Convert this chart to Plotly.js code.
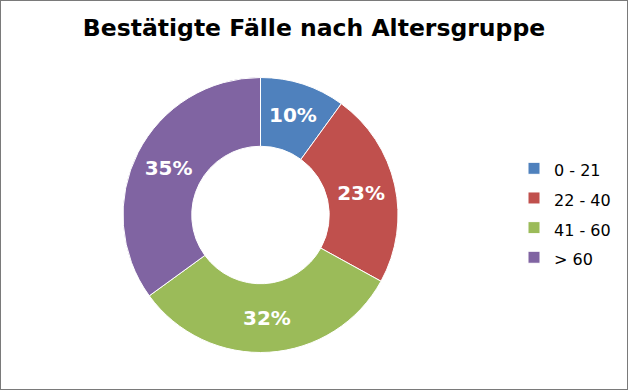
<!DOCTYPE html>
<html>
<head>
<meta charset="utf-8">
<script src="https://cdn.plot.ly/plotly-3.0.1.min.js"></script>
<style>
  html, body { margin: 0; padding: 0; background: #fff; }
  #chart { width: 626px; height: 388px; border: 1px solid #7a7a7a; }
</style>
</head>
<body>
<div id="chart"></div>
<script>
const chartTitle = "Bestätigte Fälle nach Altersgruppe";
const ageGroups = ["0 - 21", "22 - 40", "41 - 60", "> 60"];
const caseShares = [10, 23, 32, 35];
const sliceColors = ["#4F81BD", "#C0504D", "#9BBB59", "#8064A2"];

const W = 626, H = 388;
const legendLabels = ageGroups.map(g => '<span style="font-size:16px">' + g.replace('>', '&gt;') + '</span>');

const trace = {
  type: 'pie',
  labels: legendLabels,
  values: caseShares,
  hole: 0.5,
  sort: false,
  direction: 'clockwise',
  rotation: 0,
  marker: { colors: sliceColors, line: { color: '#ffffff', width: 1 } },
  textinfo: 'percent',
  textposition: 'inside',
  insidetextorientation: 'horizontal',
  insidetextfont: { family: 'DejaVu Sans', size: 20, weight: 'bold', color: '#ffffff' },
  domain: { x: [122 / W, 397 / W], y: [1 - 351.5 / H, 1 - 76.5 / H] },
  hoverinfo: 'none'
};

const layout = {
  width: W, height: H,
  margin: { l: 0, r: 0, t: 0, b: 0 },
  paper_bgcolor: '#ffffff',
  title: {
    text: '<b>' + chartTitle + '</b>',
    font: { family: 'DejaVu Sans', size: 23.5, weight: 'bold', color: '#000000' },
    x: 0.5, xanchor: 'center', y: 1 - 27 / H, yanchor: 'middle', yref: 'container'
  },
  showlegend: true,
  legend: {
    x: 513 / W, xanchor: 'left',
    y: 1 - 212 / H, yanchor: 'middle',
    font: { family: 'DejaVu Sans', size: 20.5, color: '#000000' },
    bgcolor: 'rgba(0,0,0,0)', borderwidth: 0
  }
};

Plotly.newPlot('chart', [trace], layout, { displayModeBar: false, staticPlot: true });
</script>
</body>
</html>
